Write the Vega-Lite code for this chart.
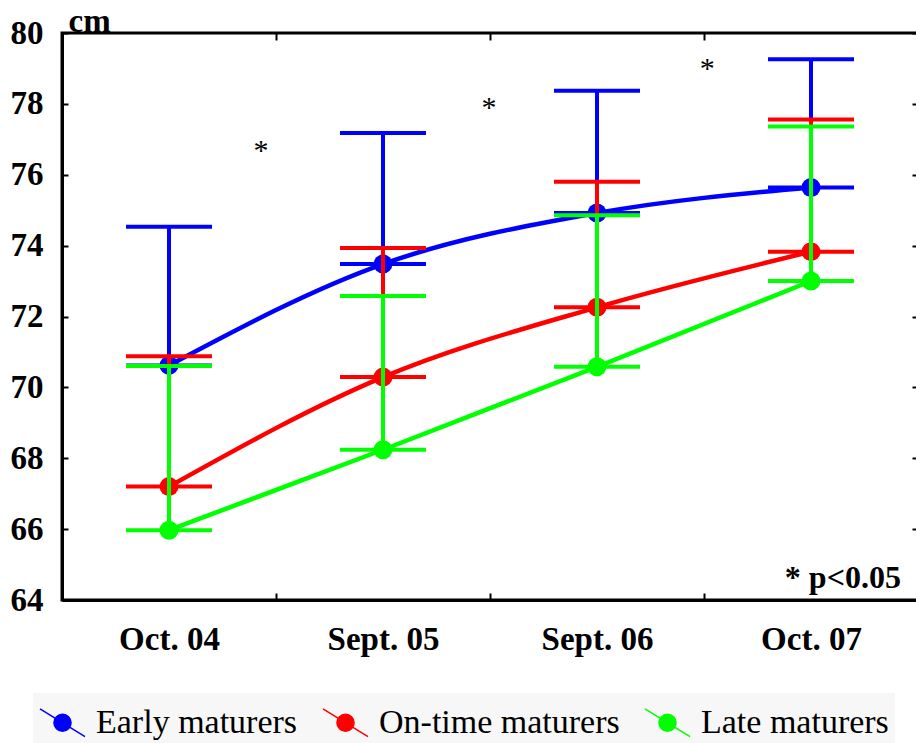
{
  "$schema": "https://vega.github.io/schema/vega-lite/v6.json",
  "width": 856,
  "height": 567,
  "autosize": {"type": "none"},
  "padding": {"left": 62, "top": 33, "right": 0, "bottom": 143},
  "background": "white",
  "config": {
    "view": {"stroke": "black", "strokeWidth": 3},
    "font": "Liberation Serif",
    "axis": {
      "labelFont": "Liberation Serif",
      "labelFontWeight": "bold",
      "labelFontSize": 33,
      "labelColor": "black",
      "tickColor": "black",
      "tickWidth": 2,
      "domainColor": "black",
      "domainWidth": 3,
      "grid": false
    }
  },
  "datasets": {
    "means": [
      {"group": "Early maturers", "date": "Oct. 04", "mean": 70.62, "upper": 74.53},
      {"group": "Early maturers", "date": "Sept. 05", "mean": 73.48, "upper": 77.18},
      {"group": "Early maturers", "date": "Sept. 06", "mean": 74.92, "upper": 78.37},
      {"group": "Early maturers", "date": "Oct. 07", "mean": 75.64, "upper": 79.26},
      {"group": "On-time maturers", "date": "Oct. 04", "mean": 67.2, "upper": 70.88},
      {"group": "On-time maturers", "date": "Sept. 05", "mean": 70.29, "upper": 73.93},
      {"group": "On-time maturers", "date": "Sept. 06", "mean": 72.26, "upper": 75.8},
      {"group": "On-time maturers", "date": "Oct. 07", "mean": 73.83, "upper": 77.56},
      {"group": "Late maturers", "date": "Oct. 04", "mean": 65.97, "upper": 70.6},
      {"group": "Late maturers", "date": "Sept. 05", "mean": 68.24, "upper": 72.58},
      {"group": "Late maturers", "date": "Sept. 06", "mean": 70.58, "upper": 74.86},
      {"group": "Late maturers", "date": "Oct. 07", "mean": 73.0, "upper": 77.36}
    ],
    "stars": [
      {"pos": 0.93, "level": 76.8, "label": "*"},
      {"pos": 1.995, "level": 78.02, "label": "*"},
      {"pos": 3.015, "level": 79.12, "label": "*"}
    ],
    "note": [
      {"pos": 3.92, "level": 64.34, "label": "* p<0.05"}
    ]
  },
  "layer": [
    {
      "data": {"name": "means"},
      "encoding": {
        "x": {
          "field": "date",
          "type": "nominal",
          "sort": ["Oct. 04", "Sept. 05", "Sept. 06", "Oct. 07"],
          "scale": {"type": "band", "paddingInner": 0, "paddingOuter": 0},
          "axis": {
            "orient": "bottom",
            "title": null,
            "labelAngle": 0,
            "tickBand": "extent",
            "tickSize": -7,
            "labelPadding": 30
          }
        },
        "y": {
          "field": "mean",
          "type": "quantitative",
          "scale": {"domain": [64, 80], "nice": false, "zero": false},
          "axis": {
            "orient": "left",
            "values": [64, 66, 68, 70, 72, 74, 76, 78, 80],
            "tickSize": -6,
            "labelPadding": 25,
            "title": "cm",
            "titleAngle": 0,
            "titleAlign": "left",
            "titleBaseline": "alphabetic",
            "titleX": 6,
            "titleY": -2,
            "titleFont": "Liberation Serif",
            "titleFontWeight": "bold",
            "titleFontSize": 33,
            "titleColor": "black"
          }
        },
        "color": {
          "field": "group",
          "type": "nominal",
          "scale": {
            "domain": ["Early maturers", "On-time maturers", "Late maturers"],
            "range": ["#0000ff", "#ff0000", "#00ff00"]
          },
          "legend": {
            "orient": "none",
            "legendX": -29,
            "legendY": 660,
            "direction": "horizontal",
            "columns": 3,
            "title": null,
            "symbolType": "M-1,-0.62L1,0.62M0.38,0A0.38,0.38 0 1,1 -0.38,0A0.38,0.38 0 1,1 0.38,0Z",
            "symbolSize": 2025,
            "symbolStrokeWidth": 1.5,
            "symbolOpacity": 1,
            "labelFont": "Liberation Serif",
            "labelFontSize": 34,
            "labelColor": "black",
            "labelLimit": 0,
            "labelOffset": 10,
            "columnPadding": 22,
            "fillColor": "#f7f7f7",
            "padding": 6,
            "encode": {
              "symbols": {
                "update": {
                  "fill": [
                    {"test": "datum.value === 'Late maturers'", "value": "#008000"},
                    {"scale": "color", "field": "value"}
                  ],
                  "stroke": [
                    {"test": "datum.value === 'Late maturers'", "value": "#008000"},
                    {"scale": "color", "field": "value"}
                  ]
                }
              }
            }
          }
        }
      },
      "layer": [
        {
          "transform": [{"filter": "datum.group === 'Early maturers'"}],
          "layer": [
            {"mark": {"type": "line", "interpolate": "monotone", "strokeWidth": 4.5}},
            {"mark": {"type": "rule", "strokeWidth": 4}, "encoding": {"y2": {"field": "upper"}}},
            {"mark": {"type": "tick", "size": 86, "thickness": 4, "orient": "horizontal", "opacity": 1}},
            {"mark": {"type": "tick", "size": 86, "thickness": 4, "orient": "horizontal", "opacity": 1}, "encoding": {"y": {"field": "upper", "type": "quantitative"}}},
            {"mark": {"type": "point", "filled": true, "opacity": 1, "size": 360}}
          ]
        },
        {
          "transform": [{"filter": "datum.group === 'On-time maturers'"}],
          "layer": [
            {"mark": {"type": "line", "interpolate": "monotone", "strokeWidth": 4.5}},
            {"mark": {"type": "rule", "strokeWidth": 4}, "encoding": {"y2": {"field": "upper"}}},
            {"mark": {"type": "tick", "size": 86, "thickness": 4, "orient": "horizontal", "opacity": 1}},
            {"mark": {"type": "tick", "size": 86, "thickness": 4, "orient": "horizontal", "opacity": 1}, "encoding": {"y": {"field": "upper", "type": "quantitative"}}},
            {"mark": {"type": "point", "filled": true, "opacity": 1, "size": 360}}
          ]
        },
        {
          "transform": [{"filter": "datum.group === 'Late maturers'"}],
          "layer": [
            {"mark": {"type": "line", "interpolate": "monotone", "strokeWidth": 4.5}},
            {"mark": {"type": "rule", "strokeWidth": 4}, "encoding": {"y2": {"field": "upper"}}},
            {"mark": {"type": "tick", "size": 86, "thickness": 4, "orient": "horizontal", "opacity": 1}},
            {"mark": {"type": "tick", "size": 86, "thickness": 4, "orient": "horizontal", "opacity": 1}, "encoding": {"y": {"field": "upper", "type": "quantitative"}}},
            {"mark": {"type": "point", "filled": true, "opacity": 1, "size": 360}}
          ]
        }
      ]
    },
    {
      "encoding": {
        "x": {
          "field": "pos",
          "type": "quantitative",
          "scale": {"domain": [0, 4], "nice": false, "zero": false},
          "axis": {
            "orient": "top",
            "values": [1, 2, 3],
            "tickSize": -7,
            "labels": false,
            "domain": false,
            "title": null
          }
        },
        "y": {
          "field": "level",
          "type": "quantitative",
          "scale": {"domain": [64, 80], "nice": false, "zero": false},
          "axis": {
            "orient": "right",
            "values": [64, 66, 68, 70, 72, 74, 76, 78, 80],
            "tickSize": -6,
            "labels": false,
            "domain": false,
            "title": null
          }
        },
        "text": {"field": "label"}
      },
      "layer": [
        {
          "data": {"name": "stars"},
          "mark": {"type": "text", "font": "Liberation Serif", "fontSize": 30, "color": "black", "align": "center", "baseline": "middle", "dy": 5}
        },
        {
          "data": {"name": "note"},
          "mark": {"type": "text", "font": "Liberation Serif", "fontSize": 32, "fontWeight": "bold", "color": "black", "align": "right", "baseline": "alphabetic"}
        }
      ]
    }
  ],
  "resolve": {"scale": {"x": "independent", "y": "independent"}, "axis": {"x": "independent", "y": "independent"}}
}
